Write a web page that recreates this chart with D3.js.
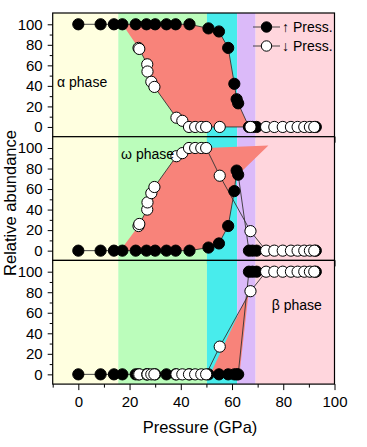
<!DOCTYPE html>
<html>
<head>
<meta charset="utf-8">
<script src="https://cdn.jsdelivr.net/npm/d3@7"></script>
<style>
  body { margin: 0; background: #fff; }
  svg text { font-family: "Liberation Sans", Arial, sans-serif; fill: #000; }
</style>
</head>
<body>
<div id="grafico"></div>
<script>
// increasing pressure (filled circles)
const pressureUp = [0, 8.7, 13.9, 17.2, 22.4, 26.6, 30.0, 34.4, 38.0, 43.4, 50.8, 54.9, 58.5, 60.9, 61.8, 62.4, 66.6, 68.0, 69.6, 92.7];
const alphaUp = [100, 100, 100, 100, 100, 100, 100, 100, 100, 100, 96, 93, 77, 42, 27, 23, 0, 0, 0, 0];
const omegaUp = [0, 0, 0, 0, 0, 0, 0, 0, 0, 0, 3, 7, 24, 58, 78, 74, 0, 0, 0, 0];
const betaUp = [0, 0, 0, 0, 0, 0, 0, 0, 0, 0, 0, 0, 0, 0, 0, 0, 100, 100, 100, 100];

// decreasing pressure (open circles)
const pressureDown = [23.5, 23.8, 26.9, 27.0, 28.5, 29.7, 38.3, 40.6, 43.2, 45.6, 48.0, 49.9, 55.2, 67.2, 73.3, 76.5, 79.8, 83.0, 85.6, 88.2, 90.4, 92.1];
const alphaDown = [77, 76, 61, 54, 44, 39, 9, 6, 0, 0, 0, 0, 0, 0, 0, 0, 0, 0, 0, 0, 0, 0];
const omegaDown = [24, 26, 40, 47, 56, 62, 92, 95, 100, 100, 100, 100, 73, 19, 0, 0, 0, 0, 0, 0, 0, 0];
const betaDown = [0, 0, 0, 0, 0, 0, 0, 0, 0, 0, 0, 0, 27, 81, 100, 100, 100, 100, 100, 100, 100, 100];

// hysteresis regions [pressure, abundance]
const alphaLoop = [[17.2, 100], [43.4, 100], [50.8, 96], [54.9, 93], [58.5, 77], [60.9, 42], [62.4, 23], [66.6, 0],
  [43.2, 0], [40.6, 6], [38.3, 9], [29.7, 39], [28.5, 44], [27.0, 54], [26.9, 61], [23.8, 76], [23.5, 77]];
const omegaLoop = [[16.3, 0], [23.5, 24], [23.8, 26], [26.9, 40], [27.0, 47], [28.5, 56], [29.7, 62], [38.3, 92],
  [40.6, 95], [43.2, 100], [49.9, 100], [74.2, 102.5], [62.4, 74], [61.8, 78], [60.9, 58], [58.5, 24], [54.9, 7], [50.8, 3], [43.4, 0]];
const betaLoop = [[51.5, 0], [66.5, 80], [62.9, 0]];

const phaseNames = ["\u03b1 phase", "\u03c9 phase", "\u03b2 phase"];
const labelAt = [[-8.3, 39], [16.7, 89], [75.5, 62.5]];

const bandEdges = [-10, 15.6, 50.2, 62.0, 69.2, 100];
const bandColors = ["#ffffe0", "#bbfdbb", "#48ecec", "#dbbaf9", "#ffd6dd"];

const xTicks = [0, 20, 40, 60, 80, 100];
const xMinor = [-10, 10, 30, 50, 70, 90];
const yTicks = [0, 20, 40, 60, 80, 100];
const yMinor = [10, 30, 50, 70, 90];

const legendItems = [
  { texto: "\u2191 Press.", lleno: true },
  { texto: "\u2193 Press.", lleno: false }
];

const width = 367;
const height = 447;
const left = 52.7, right = 334.5;
const panelTop = 13, panelH = 123.7;
const rojo = "#f8837a";

const x = d3.scaleLinear().domain([-10, 100]).range([left, right]);
const y = d3.scaleLinear().domain([-9.5, 111]).range([panelH, 0]);

const svg = d3.select("#grafico").append("svg")
  .attr("width", width)
  .attr("height", height);

const panels = [
  { up: alphaUp, down: alphaDown, loop: alphaLoop },
  { up: omegaUp, down: omegaDown, loop: omegaLoop },
  { up: betaUp, down: betaDown, loop: betaLoop }
];

const line = d3.line().x(d => x(d[0])).y(d => y(d[1]));

panels.forEach((p, i) => {
  const g = svg.append("g").attr("transform", `translate(0, ${panelTop + i * panelH})`);

  // background bands
  g.selectAll("rect.band")
    .data(bandColors)
    .join("rect")
    .attr("class", "band")
    .attr("x", (d, k) => x(bandEdges[k]))
    .attr("width", (d, k) => x(bandEdges[k + 1]) - x(bandEdges[k]))
    .attr("y", 0)
    .attr("height", panelH)
    .attr("fill", d => d);

  // hysteresis area
  g.append("path")
    .attr("d", line(p.loop) + "Z")
    .attr("fill", rojo);

  const upPts = pressureUp.map((v, k) => [v, p.up[k]]);
  const downPts = pressureDown.map((v, k) => [v, p.down[k]]);

  g.append("path").attr("d", line(upPts)).attr("fill", "none")
    .attr("stroke", "#333").attr("stroke-width", 0.9);
  g.append("path").attr("d", line(downPts)).attr("fill", "none")
    .attr("stroke", "#333").attr("stroke-width", 0.9);

  g.selectAll("circle.up")
    .data(upPts)
    .join("circle")
    .attr("class", "up")
    .attr("cx", d => x(d[0]))
    .attr("cy", d => y(d[1]))
    .attr("r", 5.6)
    .attr("fill", "#000")
    .attr("stroke", "#000");

  g.selectAll("circle.down")
    .data(downPts)
    .join("circle")
    .attr("class", "down")
    .attr("cx", d => x(d[0]))
    .attr("cy", d => y(d[1]))
    .attr("r", 5.6)
    .attr("fill", "#fff")
    .attr("stroke", "#000")
    .attr("stroke-width", 1);

  // phase label
  g.append("text")
    .attr("x", x(labelAt[i][0]))
    .attr("y", y(labelAt[i][1]))
    .style("font-size", "14px")
    .text(phaseNames[i]);

  // axes
  const axL = g.append("g").attr("transform", `translate(${left},0)`)
    .call(d3.axisLeft(y).tickValues(yTicks).tickSize(5).tickPadding(5));
  axL.select(".domain").remove();
  axL.selectAll("text").style("font-size", "15px").style("font-family", "Liberation Sans, Arial, sans-serif");
  const axLm = g.append("g").attr("transform", `translate(${left},0)`)
    .call(d3.axisLeft(y).tickValues(yMinor).tickSize(3).tickFormat(""));
  axLm.select(".domain").remove();

  const axB = g.append("g").attr("transform", `translate(0,${panelH})`)
    .call(d3.axisBottom(x).tickValues(xTicks).tickSize(6).tickPadding(6)
      .tickFormat(i === 2 ? d3.format("d") : ""));
  axB.select(".domain").remove();
  axB.selectAll("text").style("font-size", "15px").style("font-family", "Liberation Sans, Arial, sans-serif");
  const axBm = g.append("g").attr("transform", `translate(0,${panelH})`)
    .call(d3.axisBottom(x).tickValues(xMinor).tickSize(3.5).tickFormat(""));
  axBm.select(".domain").remove();

  g.selectAll(".tick line").attr("stroke", "#000").attr("stroke-width", 1);

  // frame
  g.append("rect")
    .attr("x", left).attr("y", 0)
    .attr("width", right - left).attr("height", panelH)
    .attr("fill", "none").attr("stroke", "#000").attr("stroke-width", 1.2);
});

// legend
const leyenda = svg.append("g").attr("transform", `translate(253, ${panelTop + 14})`);
leyenda.selectAll("g")
  .data(legendItems)
  .join("g")
  .attr("transform", (d, i) => `translate(0, ${i * 19})`)
  .each(function (d) {
    const s = d3.select(this);
    s.append("line").attr("x1", 0).attr("x2", 27).attr("y1", 0).attr("y2", 0)
      .attr("stroke", "#333").attr("stroke-width", 0.9);
    s.append("circle").attr("cx", 13.5).attr("cy", 0).attr("r", 5.2)
      .attr("fill", d.lleno ? "#000" : "#fff").attr("stroke", "#000");
    s.append("text").attr("x", 29).attr("y", 5)
      .style("font-size", "14px").text(d.texto);
  });

// axis titles
svg.append("text")
  .attr("x", 200)
  .attr("y", 433)
  .attr("text-anchor", "middle")
  .style("font-size", "16.5px")
  .text("Pressure (GPa)");

svg.append("text")
  .attr("transform", `translate(16, 203) rotate(-90)`)
  .attr("text-anchor", "middle")
  .style("font-size", "16.5px")
  .text("Relative abundance");
</script>
</body>
</html>
